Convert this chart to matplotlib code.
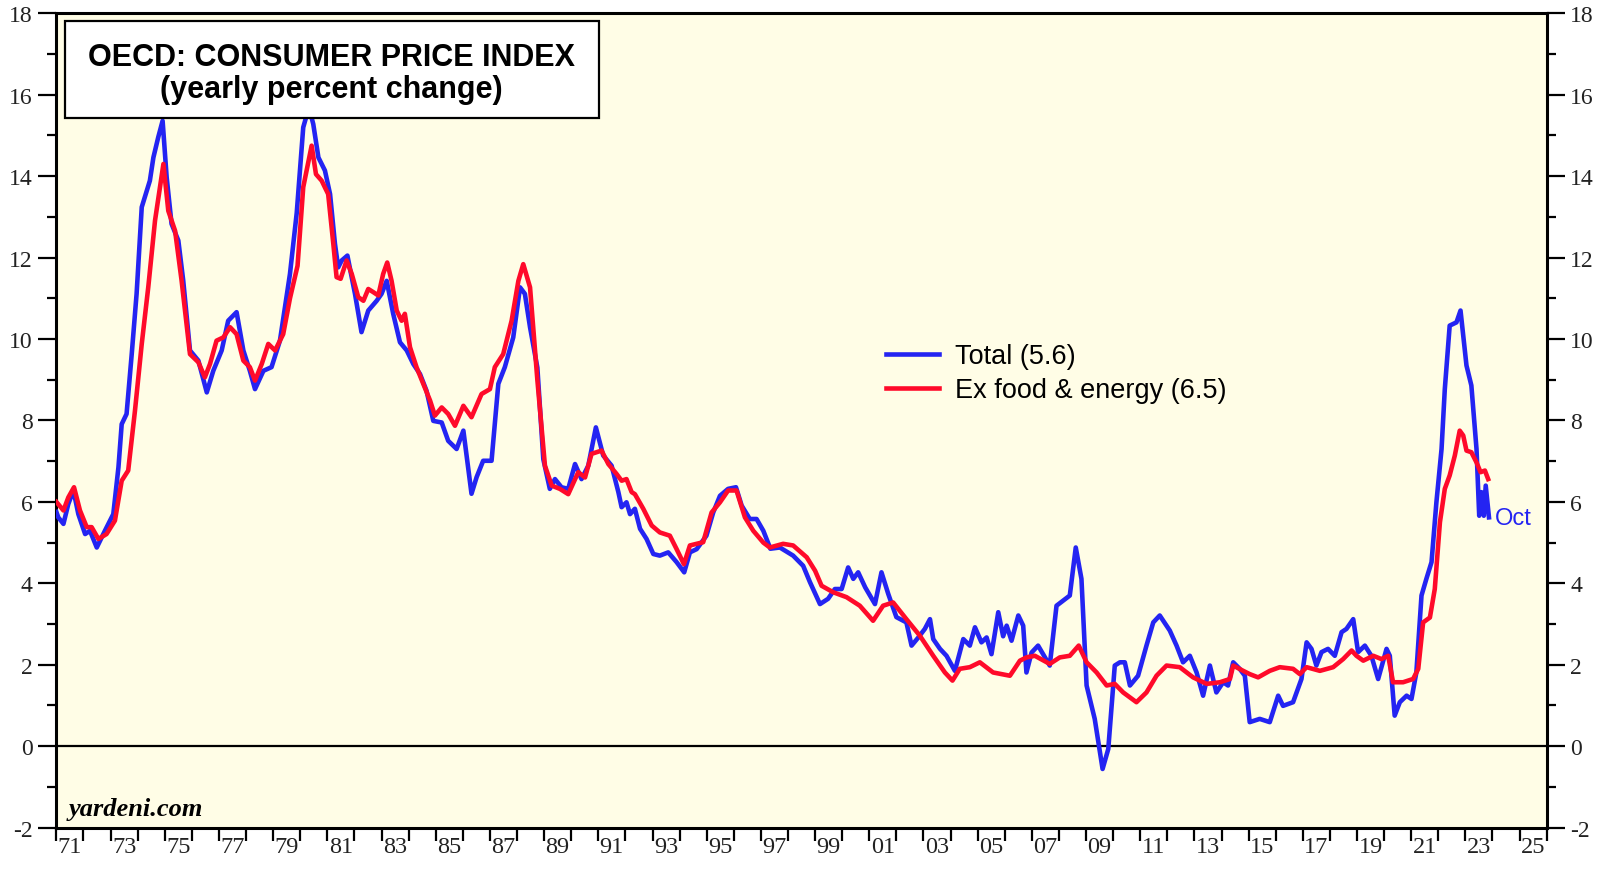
import numpy as np
import matplotlib
matplotlib.use("Agg")
import matplotlib.pyplot as plt
from matplotlib.patches import Rectangle

plt.rcParams['axes.unicode_minus'] = False

# ---------------- data (decimal year, % y/y) ----------------
total_t = [1971.00, 1971.07, 1971.26, 1971.44, 1971.63, 1971.81, 1972.06, 1972.24, 1972.49, 1972.79,
           1973.10, 1973.29, 1973.41, 1973.59, 1973.78, 1973.96, 1974.15, 1974.45, 1974.58, 1974.76,
           1974.92, 1975.07, 1975.25, 1975.50, 1975.68, 1975.93, 1976.24, 1976.55, 1976.79, 1977.10,
           1977.34, 1977.65, 1977.90, 1978.14, 1978.33, 1978.64, 1978.94, 1979.25, 1979.62, 1979.87,
           1980.11, 1980.32, 1980.48, 1980.67, 1980.91, 1981.10, 1981.28, 1981.40, 1981.53, 1981.74,
           1982.02, 1982.26, 1982.51, 1982.82, 1983.00, 1983.19, 1983.43, 1983.68, 1983.93, 1984.17,
           1984.42, 1984.66, 1984.91, 1985.22, 1985.46, 1985.77, 1986.02, 1986.32, 1986.51, 1986.75,
           1987.06, 1987.31, 1987.55, 1987.86, 1988.11, 1988.29, 1988.48, 1988.75, 1988.97, 1989.21,
           1989.40, 1989.64, 1989.89, 1990.14, 1990.38, 1990.63, 1990.91, 1991.18, 1991.49, 1991.74,
           1991.86, 1992.04, 1992.17, 1992.35, 1992.54, 1992.78, 1993.03, 1993.27, 1993.58, 1993.89,
           1994.17, 1994.38, 1994.63, 1994.99, 1995.24, 1995.49, 1995.79, 1996.08, 1996.29, 1996.59,
           1996.84, 1997.09, 1997.35, 1997.70, 1998.19, 1998.56, 1998.81, 1999.18, 1999.48, 1999.73,
           1999.98, 2000.22, 2000.41, 2000.59, 2000.85, 2001.21, 2001.45, 2001.70, 2002.00, 2002.37,
           2002.56, 2002.81, 2003.05, 2003.24, 2003.36, 2003.61, 2003.85, 2004.16, 2004.47, 2004.71,
           2004.90, 2005.14, 2005.33, 2005.51, 2005.76, 2005.94, 2006.07, 2006.25, 2006.50, 2006.68,
           2006.80, 2006.99, 2007.23, 2007.66, 2007.91, 2008.22, 2008.40, 2008.62, 2008.83, 2009.02,
           2009.32, 2009.61, 2009.82, 2010.06, 2010.25, 2010.43, 2010.62, 2010.92, 2011.23, 2011.48,
           2011.72, 2012.09, 2012.34, 2012.58, 2012.83, 2013.08, 2013.32, 2013.57, 2013.81, 2014.06,
           2014.24, 2014.43, 2014.67, 2014.86, 2015.04, 2015.41, 2015.78, 2016.09, 2016.27, 2016.64,
           2016.95, 2017.14, 2017.32, 2017.50, 2017.69, 2017.93, 2018.18, 2018.43, 2018.61, 2018.86,
           2019.04, 2019.29, 2019.53, 2019.78, 2020.09, 2020.21, 2020.39, 2020.58, 2020.83, 2021.01,
           2021.19, 2021.38, 2021.56, 2021.75, 2021.93, 2022.12, 2022.24, 2022.42, 2022.67, 2022.82,
           2023.04, 2023.22, 2023.41, 2023.51, 2023.59, 2023.68, 2023.75, 2023.87]
total_v = [5.75, 5.62, 5.46, 5.95, 6.28, 5.70, 5.21, 5.29, 4.88, 5.29,
           5.70, 6.85, 7.91, 8.16, 9.63, 11.11, 13.24, 13.89, 14.46, 14.96,
           15.36, 13.97, 12.83, 12.42, 11.44, 9.72, 9.47, 8.69, 9.22, 9.72,
           10.45, 10.66, 9.72, 9.22, 8.77, 9.22, 9.31, 9.96, 11.60, 13.10,
           15.20, 15.69, 15.28, 14.46, 14.14, 13.56, 12.34, 11.76, 11.93, 12.05,
           11.11, 10.17, 10.70, 10.94, 11.11, 11.43, 10.62, 9.92, 9.72, 9.39,
           9.14, 8.73, 7.99, 7.95, 7.50, 7.30, 7.75, 6.20, 6.61, 7.01,
           7.01, 8.90, 9.31, 10.04, 11.27, 11.11, 10.29, 9.30, 7.05, 6.32,
           6.56, 6.36, 6.32, 6.93, 6.56, 6.89, 7.83, 7.14, 6.89, 6.24,
           5.87, 5.99, 5.70, 5.83, 5.34, 5.09, 4.72, 4.68, 4.76, 4.52,
           4.27, 4.76, 4.84, 5.17, 5.74, 6.15, 6.32, 6.36, 5.91, 5.58,
           5.58, 5.29, 4.85, 4.88, 4.68, 4.43, 4.03, 3.49, 3.62, 3.86,
           3.86, 4.39, 4.11, 4.27, 3.90, 3.49, 4.27, 3.74, 3.17, 3.04,
           2.47, 2.67, 2.88, 3.12, 2.63, 2.39, 2.22, 1.85, 2.63, 2.47,
           2.92, 2.55, 2.67, 2.26, 3.29, 2.70, 2.96, 2.59, 3.21, 2.96,
           1.81, 2.30, 2.47, 1.98, 3.45, 3.61, 3.70, 4.88, 4.11, 1.49,
           0.67, -0.56, -0.07, 1.98, 2.06, 2.06, 1.49, 1.73, 2.47, 3.04,
           3.21, 2.84, 2.47, 2.06, 2.22, 1.81, 1.24, 1.98, 1.32, 1.57,
           1.49, 2.06, 1.90, 1.73, 0.59, 0.67, 0.59, 1.24, 0.99, 1.08,
           1.65, 2.55, 2.39, 1.98, 2.31, 2.39, 2.22, 2.80, 2.88, 3.12,
           2.31, 2.47, 2.22, 1.65, 2.39, 2.22, 0.75, 1.08, 1.24, 1.16,
           1.81, 3.70, 4.11, 4.52, 5.99, 7.30, 8.77, 10.33, 10.41, 10.70,
           9.35, 8.86, 7.30, 5.66, 6.24, 5.66, 6.40, 5.62]

core_t = [1971.00, 1971.26, 1971.44, 1971.65, 1971.87, 1972.12, 1972.30, 1972.55, 1972.85, 1973.16,
          1973.41, 1973.65, 1973.90, 1974.15, 1974.39, 1974.64, 1974.95, 1975.13, 1975.38, 1975.62,
          1975.93, 1976.24, 1976.48, 1976.67, 1976.91, 1977.16, 1977.41, 1977.65, 1977.90, 1978.14,
          1978.33, 1978.58, 1978.82, 1979.07, 1979.37, 1979.62, 1979.90, 1980.11, 1980.42, 1980.58,
          1980.79, 1981.03, 1981.22, 1981.34, 1981.49, 1981.71, 1981.90, 1982.14, 1982.33, 1982.51,
          1982.70, 1982.88, 1983.06, 1983.21, 1983.37, 1983.56, 1983.74, 1983.86, 1984.05, 1984.29,
          1984.54, 1984.79, 1984.97, 1985.22, 1985.46, 1985.71, 1986.02, 1986.32, 1986.69, 1987.00,
          1987.18, 1987.49, 1987.80, 1988.05, 1988.23, 1988.48, 1988.75, 1989.03, 1989.28, 1989.58,
          1989.89, 1990.26, 1990.51, 1990.75, 1991.12, 1991.37, 1991.67, 1991.86, 1992.04, 1992.23,
          1992.35, 1992.66, 1992.97, 1993.27, 1993.64, 1993.89, 1994.16, 1994.38, 1994.63, 1994.87,
          1995.18, 1995.49, 1995.79, 1996.10, 1996.41, 1996.72, 1997.09, 1997.33, 1997.82, 1998.19,
          1998.69, 1999.00, 1999.24, 1999.67, 2000.16, 2000.65, 2001.14, 2001.51, 2001.88, 2002.37,
          2002.87, 2003.36, 2003.79, 2004.07, 2004.34, 2004.71, 2005.08, 2005.57, 2006.19, 2006.56,
          2006.80, 2007.11, 2007.66, 2008.03, 2008.40, 2008.73, 2009.02, 2009.39, 2009.76, 2010.06,
          2010.37, 2010.86, 2011.23, 2011.60, 2011.97, 2012.46, 2012.95, 2013.45, 2013.94, 2014.31,
          2014.43, 2014.80, 2015.04, 2015.35, 2015.78, 2016.15, 2016.64, 2016.89, 2017.14, 2017.63,
          2018.12, 2018.49, 2018.80, 2018.98, 2019.23, 2019.60, 2019.90, 2020.15, 2020.33, 2020.70,
          2021.07, 2021.26, 2021.44, 2021.69, 2021.87, 2022.06, 2022.24, 2022.42, 2022.61, 2022.79,
          2022.92, 2023.04, 2023.22, 2023.41, 2023.56, 2023.72, 2023.84]
core_v = [6.00, 5.79, 6.11, 6.36, 5.79, 5.38, 5.38, 5.09, 5.21, 5.54,
          6.52, 6.77, 8.24, 9.88, 11.27, 12.91, 14.30, 13.15, 12.66, 11.44,
          9.63, 9.43, 9.06, 9.39, 9.96, 10.04, 10.29, 10.12, 9.47, 9.31,
          8.98, 9.39, 9.88, 9.72, 10.12, 11.00, 11.80, 13.73, 14.75, 14.05,
          13.89, 13.56, 12.34, 11.52, 11.48, 11.93, 11.60, 11.03, 10.94, 11.23,
          11.15, 11.07, 11.60, 11.88, 11.43, 10.70, 10.45, 10.62, 9.80, 9.31,
          8.90, 8.49, 8.12, 8.32, 8.16, 7.87, 8.36, 8.08, 8.65, 8.77,
          9.31, 9.63, 10.45, 11.43, 11.84, 11.27, 9.00, 6.89, 6.40, 6.32,
          6.19, 6.73, 6.60, 7.18, 7.26, 6.93, 6.69, 6.52, 6.56, 6.24,
          6.19, 5.83, 5.42, 5.25, 5.17, 4.84, 4.47, 4.93, 4.97, 5.01,
          5.74, 5.99, 6.28, 6.28, 5.62, 5.29, 5.00, 4.88, 4.97, 4.93,
          4.64, 4.31, 3.94, 3.78, 3.66, 3.45, 3.08, 3.45, 3.53, 3.12,
          2.71, 2.22, 1.81, 1.61, 1.90, 1.94, 2.06, 1.81, 1.73, 2.10,
          2.18, 2.22, 2.02, 2.18, 2.22, 2.47, 2.06, 1.81, 1.49, 1.53,
          1.32, 1.08, 1.32, 1.73, 1.98, 1.94, 1.69, 1.53, 1.57, 1.65,
          1.98, 1.85, 1.77, 1.69, 1.85, 1.94, 1.90, 1.77, 1.94, 1.85,
          1.94, 2.14, 2.35, 2.22, 2.10, 2.22, 2.14, 2.22, 1.57, 1.57,
          1.65, 1.90, 3.04, 3.16, 3.86, 5.50, 6.32, 6.65, 7.14, 7.75,
          7.63, 7.26, 7.22, 6.97, 6.73, 6.77, 6.56]

x_tick_years = list(range(1971, 2027))
x_label_years = list(range(1971, 2026, 2))
x_labels = ['71', '73', '75', '77', '79', '81', '83', '85', '87', '89', '91', '93', '95', '97',
            '99', '01', '03', '05', '07', '09', '11', '13', '15', '17', '19', '21', '23', '25']
y_ticks = [-2, 0, 2, 4, 6, 8, 10, 12, 14, 16, 18]
y_labels = ['-2', '0', '2', '4', '6', '8', '10', '12', '14', '16', '18']
legend_labels = ['Total (5.6)', 'Ex food & energy (6.5)']

# ---------------- figure ----------------
fig = plt.figure(figsize=(16.08, 8.70), dpi=100)
fig.patch.set_facecolor('white')
ax = fig.add_axes([0.03507, 0.0476, 0.9268, 0.9359])
ax.set_facecolor('#FFFDE6')

BLUE = '#2424F2'
RED = '#FF0A2A'
l1, = ax.plot(total_t, total_v, color=BLUE, lw=3.3, solid_joinstyle='round', zorder=3)
l2, = ax.plot(core_t, core_v, color=RED, lw=3.3, solid_joinstyle='round', zorder=4)
ax.axhline(0, color='black', lw=1.6, zorder=2)

ax.set_xlim(1971, 2026)
ax.set_ylim(-2, 18)

for s in ax.spines.values():
    s.set_linewidth(2.2)
    s.set_color('black')

serif = 'Liberation Serif'
sans = 'Liberation Sans'

# x ticks: a tick each year, labels centred between ticks
ax.set_xticks(x_tick_years)
ax.set_xticklabels([])
ax.set_xticks([y + 0.5 for y in x_label_years], minor=True)
ax.set_xticklabels(x_labels, minor=True, fontfamily=serif, fontsize=17.5, color='#222222')
ax.tick_params(axis='x', which='major', direction='out', length=9.5, width=1.6, color='black')
ax.tick_params(axis='x', which='minor', length=0, pad=6)

# y ticks on both sides
ax.set_yticks(y_ticks)
ax.set_yticklabels(y_labels, fontfamily=serif, fontsize=17, color='#222222')
ax.set_yticks(np.arange(-1, 18, 2), minor=True)
ax.tick_params(axis='y', which='major', direction='out', length=13, width=1.6,
               left=True, right=True, labelleft=True, labelright=True, pad=4)
ax.tick_params(axis='y', which='minor', direction='out', length=6.5, width=1.6,
               left=True, right=True)
for lab in ax.get_yticklabels():
    lab.set_fontfamily(serif)
    lab.set_fontsize(17)
    lab.set_color('#222222')

# title box
ax.add_patch(Rectangle((0.0055, 0.8715), 0.3585, 0.1185, transform=ax.transAxes,
                       facecolor='white', edgecolor='black', lw=1.6, zorder=6))
ax.text(0.1848, 0.9465, 'OECD: CONSUMER PRICE INDEX', transform=ax.transAxes,
        ha='center', va='center', fontfamily=sans, fontweight='bold', fontsize=22, zorder=7)
ax.text(0.1848, 0.9065, '(yearly percent change)', transform=ax.transAxes,
        ha='center', va='center', fontfamily=sans, fontweight='bold', fontsize=22, zorder=7)

# legend
leg = ax.legend([l1, l2], legend_labels, loc='upper left', bbox_to_anchor=(0.5495, 0.608),
                frameon=False, prop={'family': sans, 'size': 19.5},
                handlelength=1.94, handletextpad=0.62, labelspacing=0.3, borderaxespad=0)

# last-value label
ax.text(total_t[-1] + 0.22, 5.6, 'Oct', color=BLUE, fontfamily=sans, fontsize=17,
        ha='left', va='center', zorder=7)

# source
ax.text(0.0085, 0.023, 'yardeni.com', transform=ax.transAxes, ha='left', va='center',
        fontfamily=serif, fontstyle='italic', fontweight='bold', fontsize=19, zorder=7)

fig.savefig('out.png', dpi=100, facecolor='white')
